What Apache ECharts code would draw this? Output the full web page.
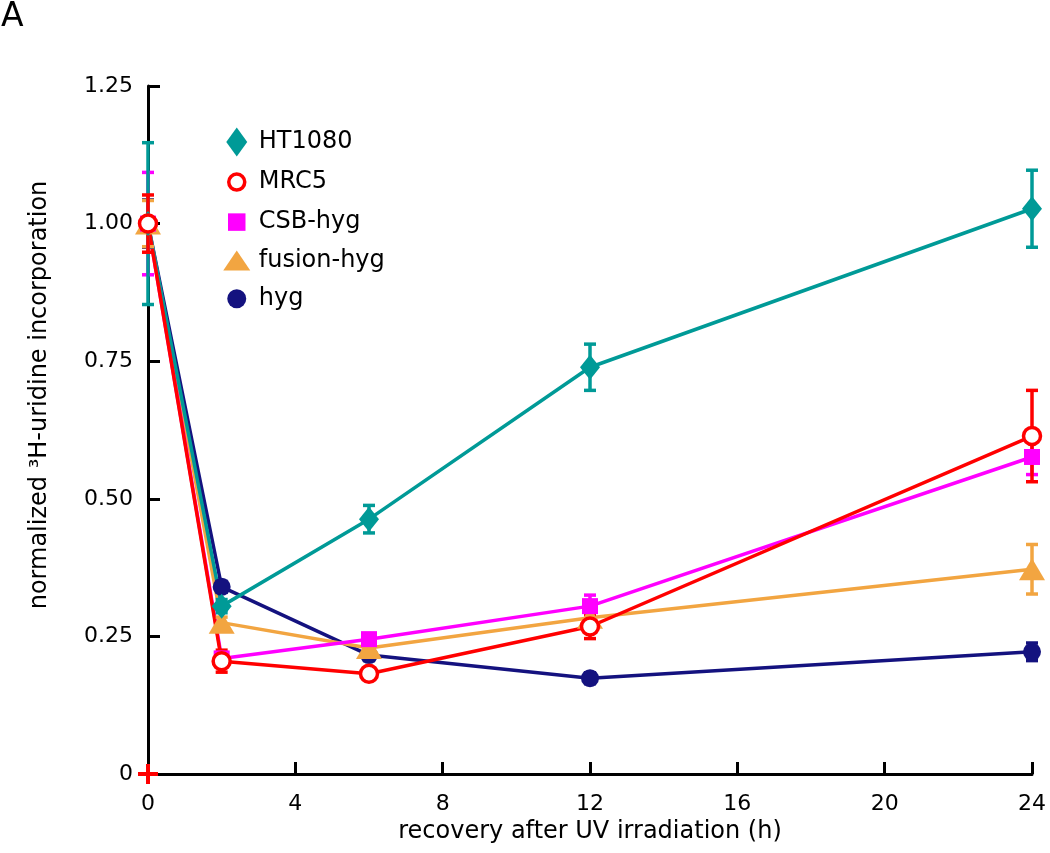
<!DOCTYPE html>
<html>
<head>
<meta charset="utf-8">
<script src="https://cdn.jsdelivr.net/npm/echarts@6/dist/echarts.min.js"></script>
<style>html,body{margin:0;padding:0;background:#fff;}#chart{width:1050px;height:853px;}</style>
</head>
<body>
<div id="chart"></div>
<script>
// ---- data ----
const hours = [0, 2, 6, 12, 24];
const xTicks = [0, 4, 8, 12, 16, 20, 24];
const yTicks = [0, 0.25, 0.5, 0.75, 1.0, 1.25];

const seriesNames = ['HT1080', 'MRC5', 'CSB-hyg', 'fusion-hyg', 'hyg'];
const ht1080 = [1.00, 0.305, 0.463, 0.739, 1.027];
const ht1080Err = [0.147, 0.012, 0.025, 0.042, 0.070];
const mrc5 = [1.00, 0.205, 0.182, 0.268, 0.614];
const mrc5Err = [0.052, 0.020, 0.010, 0.022, 0.083];
const csbHyg = [1.00, 0.210, 0.245, 0.305, 0.576];
const csbHygErr = [0.093, 0.010, 0.010, 0.020, 0.032];
const fusionHyg = [1.00, 0.275, 0.229, 0.284, 0.372];
const fusionHygErr = [0.042, 0.010, 0.010, 0.015, 0.045];
const hyg = [1.00, 0.340, 0.216, 0.174, 0.222];
const hygErr = [0.043, 0.010, 0.010, 0.010, 0.016];
const originMark = [[0, 0]];

// ---- styles ----
const FONT = '"DejaVu Sans", sans-serif';
const colors = ['#009a97', '#ff0000', '#ff00ff', '#f2a541', '#14127f'];
const symbols = ['diamond', 'circle', 'rect', 'triangle', 'circle'];
const symbolSizes = [[20, 25], 17, 16, [26, 22], 18];
// legend icons drawn in a 38x30 box (corner moveTo points keep the box)
const PAD = 'M0,0M38,30';
const legendIcons = [
  'path://' + PAD + 'M21,0.5L31.5,15L21,29.5L10.5,15Z',
  'path://' + PAD + 'M29,15A8,8,0,1,1,13,15A8,8,0,1,1,29,15Z',
  'path://' + PAD + 'M12.25,6.25H29.75V23.75H12.25Z',
  'path://' + PAD + 'M21,5L34.5,25L7.5,25Z',
  'path://' + PAD + 'M30.5,15A9.5,9.5,0,1,1,11.5,15A9.5,9.5,0,1,1,30.5,15Z'
];
const values = [ht1080, mrc5, csbHyg, fusionHyg, hyg];
const errs = [ht1080Err, mrc5Err, csbHygErr, fusionHygErr, hygErr];

function pairs(v) { return hours.map((h, i) => [h, v[i]]); }
function errData(v, e) { return hours.map((h, i) => [h, v[i] - e[i], v[i] + e[i]]); }

function errRenderer(color) {
  return function (params, api) {
    const x = api.value(0);
    const p1 = api.coord([x, api.value(2)]);
    const p2 = api.coord([x, api.value(1)]);
    const w = 6;
    const style = { stroke: color, lineWidth: 3.5 };
    return {
      type: 'group',
      children: [
        { type: 'line', shape: { x1: p1[0], y1: p1[1], x2: p2[0], y2: p2[1] }, style: style },
        { type: 'line', shape: { x1: p1[0] - w, y1: p1[1], x2: p1[0] + w, y2: p1[1] }, style: style },
        { type: 'line', shape: { x1: p2[0] - w, y1: p2[1], x2: p2[0] + w, y2: p2[1] }, style: style }
      ]
    };
  };
}

const drawOrder = [4, 3, 2, 0, 1];
const series = [];
drawOrder.forEach(function (i) {
  series.push({
    name: seriesNames[i] + ' line', type: 'line', data: pairs(values[i]),
    symbol: 'none', clip: false, z: 2,
    lineStyle: { color: colors[i], width: 3.5 }
  });
});
drawOrder.forEach(function (i) {
  series.push({
    name: seriesNames[i] + ' err', type: 'custom', data: errData(values[i], errs[i]),
    renderItem: errRenderer(colors[i]), clip: false, z: 3,
    encode: { x: 0, y: [1, 2] }
  });
});
drawOrder.forEach(function (i) {
  const isOpen = seriesNames[i] === 'MRC5';
  series.push({
    name: seriesNames[i], type: 'scatter', data: pairs(values[i]),
    symbol: symbols[i], symbolSize: symbolSizes[i], clip: false, z: 4,
    itemStyle: isOpen ? { color: '#ffffff', borderColor: colors[i], borderWidth: 3.5, opacity: 1 }
                      : { color: colors[i], opacity: 1 }
  });
});
series.push({
  name: 'origin', type: 'scatter', data: originMark, clip: false, z: 5,
  symbol: 'path://M4,0H6V4H10V6H6V10H4V6H0V4H4Z', symbolSize: 20,
  itemStyle: { color: '#ff0000', opacity: 1 }
});

const legendData = seriesNames.map(function (n, i) {
  const item = { name: n, icon: legendIcons[i] };
  if (n === 'MRC5') item.itemStyle = { color: '#ffffff', borderColor: colors[i], borderWidth: 3.5 };
  return item;
});

const chart = echarts.init(document.getElementById('chart'), null, { renderer: 'canvas' });
chart.setOption({
  backgroundColor: '#ffffff',
  animation: false,
  textStyle: { fontFamily: FONT },
  graphic: [{ type: 'text', left: 1, top: 1, style: { text: 'A', font: '33px "DejaVu Sans", sans-serif', fill: '#000' } }],
  grid: { left: 148, right: 18, top: 86, bottom: 79, containLabel: false },
  legend: {
    orient: 'vertical', left: 214, top: 127, padding: 0,
    itemWidth: 38, itemHeight: 30, itemGap: 8.3,
    symbolKeepAspect: true,
    data: legendData,
    textStyle: { fontSize: 24, color: '#000', fontFamily: FONT },
    selectedMode: false
  },
  xAxis: {
    type: 'value', min: xTicks[0], max: xTicks[xTicks.length - 1], interval: xTicks[1] - xTicks[0],
    name: 'recovery after UV irradiation (h)', nameLocation: 'middle', nameGap: 45,
    nameTextStyle: { fontSize: 24, color: '#000', fontFamily: FONT },
    axisLine: { lineStyle: { color: '#000', width: 3 } },
    axisTick: { inside: true, length: 12, lineStyle: { color: '#000', width: 3 } },
    axisLabel: { fontSize: 22, color: '#000', margin: 19, fontFamily: FONT },
    splitLine: { show: false }
  },
  yAxis: {
    type: 'value', min: yTicks[0], max: yTicks[yTicks.length - 1], interval: yTicks[1] - yTicks[0],
    name: 'normalized \u00b3H-uridine incorporation', nameLocation: 'middle', nameGap: 96,
    nameTextStyle: { fontSize: 24, color: '#000', fontFamily: FONT, padding: [0, 0, 0, 70] },
    axisLine: { lineStyle: { color: '#000', width: 3 } },
    axisTick: { inside: true, length: 12, lineStyle: { color: '#000', width: 3 } },
    axisLabel: { fontSize: 22, color: '#000', margin: 15, fontFamily: FONT,
      formatter: function (v) { return v === 0 ? '0' : v.toFixed(2); } },
    splitLine: { show: false }
  },
  series: series
});
</script>
</body>
</html>
